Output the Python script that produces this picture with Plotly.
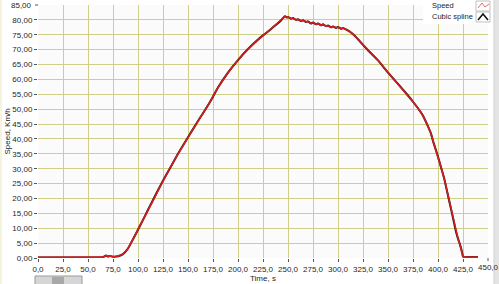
import plotly.graph_objects as go

# Data
time_s = [0, 10, 20, 30, 40, 50, 60, 65, 68, 70, 72, 75, 78, 80, 85, 90, 95, 100, 105, 110,
          115, 120, 125, 130, 140, 150, 160, 170, 175, 180, 190, 200, 210, 220, 225, 230,
          235, 240, 243, 245, 247, 249, 250, 253, 255, 258, 260, 263, 265, 268, 270, 273,
          275, 278, 280, 283, 285, 288, 290, 293, 295, 298, 300, 303, 305, 308, 312, 316,
          320, 325, 330, 340, 350, 360, 370, 375, 380, 385, 390, 393, 395, 398, 400, 403,
          406, 410, 414, 418, 420, 422, 424, 425, 426, 430, 435, 440]
speed = [0.2, 0.2, 0.2, 0.2, 0.2, 0.2, 0.2, 0.3, 0.8, 0.5, 0.7, 0.4, 0.5, 0.6, 1.3, 3.2, 6.3, 9.5, 12.8, 16.2,
         19.5, 22.8, 26.0, 29.0, 35.0, 40.6, 46.0, 51.3, 54.2, 57.3, 62.3, 66.5, 70.2, 73.4, 74.8, 76.1,
         77.5, 78.9, 79.8, 80.6, 81.2, 80.8, 81.0, 80.4, 80.6, 80.0, 80.2, 79.6, 79.9, 79.3, 79.5, 78.8,
         79.1, 78.5, 78.8, 78.2, 78.5, 77.9, 78.1, 77.5, 77.8, 77.3, 77.6, 77.0, 77.3, 76.8, 76.0, 74.9,
         73.5, 71.6, 69.8, 66.4, 62.3, 58.5, 54.6, 52.5, 50.3, 47.8, 44.2, 41.8, 39.3, 36.2, 34.0, 30.5,
         27.0, 21.0, 15.0, 8.8, 6.5, 4.5, 2.0, 0.5, 0.3, 0.3, 0.3, 0.3]
spline = speed

x_ticks = [0, 25, 50, 75, 100, 125, 150, 175, 200, 225, 250, 275, 300, 325, 350, 375, 400, 425, 450]
y_ticks = [0, 5, 10, 15, 20, 25, 30, 35, 40, 45, 50, 55, 60, 65, 70, 75, 80, 85]
x_tick_text = [f"{v:.1f}".replace(".", ",") for v in x_ticks]
y_tick_text = [f"{v:.2f}".replace(".", ",") for v in y_ticks]

FONT = "Liberation Sans"
FS = 8
GRID = "#cfcf8a"
TXT = "#262626"

# plot area in pixels (for placing decorations)
L, R, T, B = 38, 488, 5, 258
def px(x):
    return (x - L) / (R - L)
def py(y):
    return (B - y) / (B - T)

fig = go.Figure()
fig.add_trace(go.Scatter(x=time_s, y=spline, mode="lines", name="Cubic spline",
                         line=dict(color="#1a1a1a", width=2, shape="spline", smoothing=0.4),
                         showlegend=False, hoverinfo="skip"))
fig.add_trace(go.Scatter(x=time_s, y=speed, mode="lines", name="Speed",
                         line=dict(color="#d81c1c", width=1.6),
                         showlegend=False, hoverinfo="skip"))

fig.update_layout(
    width=499, height=284,
    margin=dict(l=L, r=499 - R, t=T, b=284 - B),
    paper_bgcolor="#ffffff",
    plot_bgcolor="#fbfbfb",
    font=dict(family=FONT, size=FS, color=TXT),
    xaxis=dict(range=[0, 450], tickvals=x_ticks[:-1], ticktext=x_tick_text[:-1],
               showgrid=True, gridcolor=GRID, gridwidth=1,
               ticks="outside", ticklen=3, tickcolor="#555555",
               zeroline=False, showline=False, tickfont=dict(family=FONT, size=FS, color=TXT),
               fixedrange=True),
    yaxis=dict(range=[0, 85], tickvals=y_ticks[:-1], ticktext=y_tick_text[:-1],
               showgrid=True, gridcolor=GRID, gridwidth=1,
               ticks="outside", ticklen=3, tickcolor="#555555",
               zeroline=False, showline=False, tickfont=dict(family=FONT, size=FS, color=TXT),
               fixedrange=True),
    showlegend=False,
)

annotations = [
    dict(text="Speed, Km/h", x=px(7), y=0.5, xref="paper", yref="paper", textangle=-90,
         showarrow=False, font=dict(family=FONT, size=FS, color=TXT), xanchor="center", yanchor="middle"),
    dict(text="Time, s", x=px(263), y=py(278), xref="paper", yref="paper",
         showarrow=False, font=dict(family=FONT, size=FS, color=TXT), xanchor="center", yanchor="middle"),
    dict(text=x_tick_text[-1], x=1.0, y=py(267), xref="paper", yref="paper",
         showarrow=False, font=dict(family=FONT, size=FS, color=TXT), xanchor="center", yanchor="middle"),
    dict(text=y_tick_text[-1], x=px(34), y=1.0, xref="paper", yref="paper",
         showarrow=False, font=dict(family=FONT, size=FS, color=TXT), xanchor="right", yanchor="middle"),
    dict(text="Speed", x=px(430), y=py(6), xref="paper", yref="paper", showarrow=False,
         font=dict(family=FONT, size=7.5, color=TXT), xanchor="left", yanchor="middle"),
    dict(text="Cubic spline", x=px(430), y=py(17), xref="paper", yref="paper", showarrow=False,
         font=dict(family=FONT, size=7.5, color=TXT), xanchor="left", yanchor="middle"),
]

shapes = [
    # tick marks at 450 (x) and 85 (y)
    dict(type="line", xref="paper", yref="paper", x0=1.0, x1=1.0, y0=py(258), y1=py(261),
         line=dict(color="#555555", width=1)),
    dict(type="line", xref="paper", yref="paper", x0=px(35), x1=px(38), y0=1.0, y1=1.0,
         line=dict(color="#555555", width=1)),
    # legend box
    dict(type="rect", xref="paper", yref="paper", x0=px(423), x1=px(491), y0=py(24), y1=py(-2),
         fillcolor="#ffffff", line=dict(color="#ffffff", width=0), layer="above"),
    # legend icons
    dict(type="rect", xref="paper", yref="paper", x0=px(476), x1=px(490), y0=py(11), y1=py(1),
         fillcolor="#ffffff", line=dict(color="#c0c0c0", width=1), layer="above"),
    dict(type="path", xref="paper", yref="paper",
         path=f"M {px(478)} {py(8)} L {px(482)} {py(3)} L {px(485)} {py(7)} L {px(489)} {py(4)}",
         line=dict(color="#e07070", width=1), layer="above"),
    dict(type="rect", xref="paper", yref="paper", x0=px(476), x1=px(490), y0=py(22), y1=py(12),
         fillcolor="#ffffff", line=dict(color="#c0c0c0", width=1), layer="above"),
    dict(type="path", xref="paper", yref="paper",
         path=f"M {px(478)} {py(20)} L {px(483)} {py(14)} L {px(488)} {py(20)}",
         line=dict(color="#111111", width=1.5), layer="above"),
    # right scrollbar strip
    dict(type="rect", xref="paper", yref="paper", x0=px(494), x1=px(501), y0=py(286), y1=py(-2),
         fillcolor="#e4e4e4", line=dict(color="#cfcfcf", width=1), layer="above"),
    # left pale strip
    dict(type="rect", xref="paper", yref="paper", x0=px(-1), x1=px(2), y0=py(286), y1=py(-2),
         fillcolor="#f6f4dc", line=dict(width=0), layer="above"),
    # bottom-left tool palette
    dict(type="rect", xref="paper", yref="paper", x0=px(35), x1=px(82), y0=py(285), y1=py(276),
         fillcolor="#d6d6d6", line=dict(color="#9a9a9a", width=1), layer="above"),
    dict(type="rect", xref="paper", yref="paper", x0=px(52), x1=px(64), y0=py(284), y1=py(277),
         fillcolor="#a8a8a8", line=dict(width=0), layer="above"),
]

fig.update_layout(annotations=annotations, shapes=shapes)
fig.write_html("out.html")
